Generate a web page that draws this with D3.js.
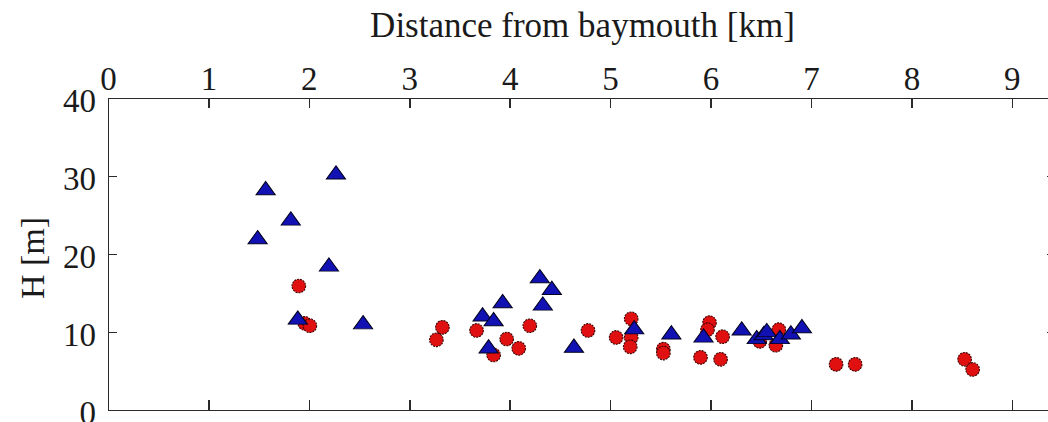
<!DOCTYPE html>
<html>
<head>
<meta charset="utf-8">
<script src="https://cdn.jsdelivr.net/npm/d3@7/dist/d3.min.js"></script>
<style>
  html, body { margin: 0; padding: 0; background: #fff; }
  svg { display: block; }
  .axis path, .axis line { stroke: #2a2a2a; stroke-width: 1.6px; shape-rendering: crispEdges; }
  .axis text { font-family: "Liberation Serif", "Times New Roman", serif; font-size: 33px; fill: #1a1a1a; }
</style>
</head>
<body>
<svg id="chart" width="1048" height="422"></svg>
<script>
// Wave height H [m] against distance from the bay mouth [km]
const triangleDist = [1.49, 1.57, 1.82, 2.27, 2.20, 1.89, 2.54, 3.73, 3.84, 3.93, 3.79, 4.30, 4.42, 4.33, 4.64,
                      5.24, 5.61, 5.93, 6.31, 6.46, 6.53, 6.56, 6.69, 6.80, 6.91];
const triangleH    = [22.0, 28.3, 24.4, 30.3, 18.5, 11.7, 11.1, 12.1, 11.5, 13.8, 8.0, 17.0, 15.5, 13.5, 8.1,
                      10.45, 9.8, 9.4, 10.3, 9.2, 9.7, 10.1, 9.2, 9.8, 10.6];

const circleDist = [1.90, 1.96, 2.01, 3.33, 3.27, 3.67, 3.84, 3.97, 4.09, 4.20, 4.78, 5.06,
                    5.21, 5.21, 5.20, 5.53, 5.53, 5.99, 5.97, 6.12, 5.90, 6.10, 6.49, 6.68, 6.65,
                    7.25, 7.44, 8.53, 8.61];
const circleH    = [15.9, 11.1, 10.8, 10.6, 9.0, 10.2, 7.05, 9.1, 7.9, 10.8, 10.2, 9.3,
                    11.7, 9.3, 8.1, 7.8, 7.3, 11.2, 10.3, 9.4, 6.75, 6.5, 8.8, 10.3, 8.3,
                    5.85, 5.85, 6.5, 5.2];

const xTicks = [0, 1, 2, 3, 4, 5, 6, 7, 8, 9];
const yTicks = [0, 10, 20, 30, 40];
const xDomain = [0, 9.45];
const yDomain = [0, 40];

const svg = d3.select("#chart");
const plot = { left: 108, right: 1057, top: 98, bottom: 410 };

const x = d3.scaleLinear().domain(xDomain).range([plot.left, plot.right]);
const y = d3.scaleLinear().domain(yDomain).range([plot.bottom, plot.top]);

// Axes: labelled top and left, inward ticks on all four sides
svg.append("g").attr("class", "axis")
  .attr("transform", `translate(0,${plot.top})`)
  .call(d3.axisTop(x).tickValues(xTicks).tickSizeInner(-10).tickSizeOuter(0).tickPadding(8).tickFormat(d3.format("d")))
  .call(g => g.selectAll("text").attr("dy", "0em"));

svg.append("g").attr("class", "axis")
  .attr("transform", `translate(0,${plot.bottom})`)
  .call(d3.axisBottom(x).tickValues(xTicks).tickSizeInner(-10).tickSizeOuter(0).tickFormat(""));

svg.append("g").attr("class", "axis")
  .attr("transform", `translate(${plot.left},0)`)
  .call(d3.axisLeft(y).tickValues(yTicks).tickSizeInner(-9).tickSizeOuter(0).tickPadding(12).tickFormat(d3.format("d")))
  .call(g => g.selectAll("text").attr("dy", "0.41em"));

svg.append("g").attr("class", "axis")
  .attr("transform", `translate(${plot.right},0)`)
  .call(d3.axisRight(y).tickValues(yTicks).tickSizeInner(-10).tickSizeOuter(0).tickFormat(""));

// Axis titles
svg.append("text")
  .attr("x", (plot.left + plot.right) / 2).attr("y", 37)
  .attr("text-anchor", "middle")
  .style("font-family", '"Liberation Serif", "Times New Roman", serif')
  .style("font-size", "35px").style("fill", "#1a1a1a")
  .text("Distance from baymouth [km]");

svg.append("text")
  .attr("transform", `translate(44,${(plot.top + plot.bottom) / 2 + 4}) rotate(-90)`)
  .attr("text-anchor", "middle")
  .style("font-family", '"Liberation Serif", "Times New Roman", serif')
  .style("font-size", "34px").style("fill", "#1a1a1a")
  .text("H [m]");

// Red circles
svg.append("g").selectAll("circle")
  .data(d3.range(circleDist.length))
  .join("circle")
  .attr("cx", i => x(circleDist[i]))
  .attr("cy", i => y(circleH[i]))
  .attr("r", 6.8)
  .attr("fill", "#e01010")
  .attr("stroke", "#3a0000")
  .attr("stroke-width", 1.1)
  .attr("stroke-dasharray", "2,1");

// Blue triangles
const tri = d3.symbol().type(d3.symbolTriangle).size(120);
svg.append("g").selectAll("path")
  .data(d3.range(triangleDist.length))
  .join("path")
  .attr("d", tri)
  .attr("transform", i => `translate(${x(triangleDist[i])},${y(triangleH[i]) + 1}) scale(1.15,0.92)`)
  .attr("fill", "#1212b4")
  .attr("stroke", "#000020")
  .attr("stroke-width", 1);
</script>
</body>
</html>
